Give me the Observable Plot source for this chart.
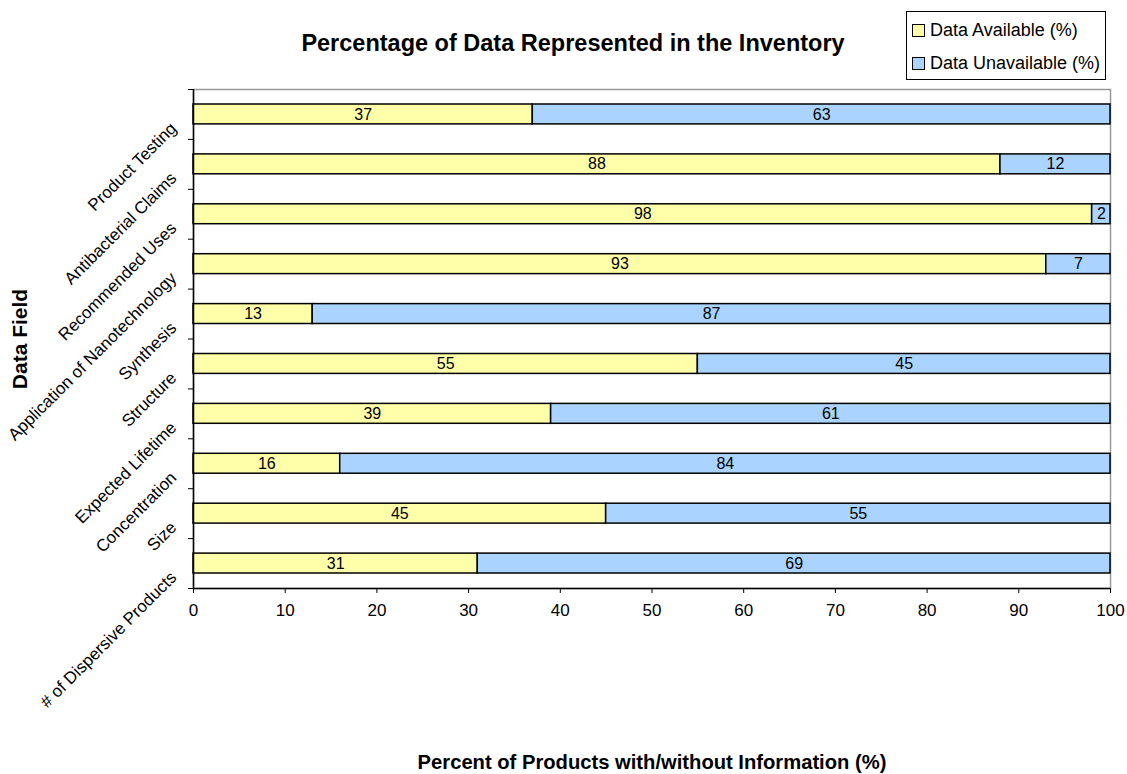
<!DOCTYPE html>
<html>
<head>
<meta charset="utf-8">
<script src="https://cdn.jsdelivr.net/npm/d3@7"></script>
<script src="https://cdn.jsdelivr.net/npm/@observablehq/plot@0.6"></script>
<style>
  html, body { margin: 0; padding: 0; background: #fff; }
  body { width: 1127px; height: 774px; position: relative; font-family: "Liberation Sans", Arial, sans-serif; }
  #chart { position: absolute; left: 0; top: 0; }
  #legend { position: absolute; left: 906px; top: 11px; width: 200px; height: 69px; border: 1px solid #000; background: #fff; font-size: 18px; color: #000; box-sizing: border-box; }
  .item { position: absolute; left: 5px; height: 20px; display: flex; align-items: center; white-space: nowrap; }
  .sw { width: 11px; height: 11px; border: 1px solid #000; margin-right: 5px; }
</style>
</head>
<body>
<div id="chart"></div>
<div id="legend"></div>
<script>
const categories = ["# of Dispersive Products", "Size", "Concentration", "Expected Lifetime", "Structure", "Synthesis", "Application of Nanotechnology", "Recommended Uses", "Antibacterial Claims", "Product Testing"];
const available = [31, 45, 16, 39, 55, 13, 93, 98, 88, 37];
const unavailable = [69, 55, 84, 61, 45, 87, 7, 2, 12, 63];
const seriesNames = ["Data Available (%)", "Data Unavailable (%)"];
const seriesColors = ["#FFFFAA", "#AAD4FF"];
const xTicks = [0, 10, 20, 30, 40, 50, 60, 70, 80, 90, 100];
const title = "Percentage of Data Represented in the Inventory";
const xTitle = "Percent of Products with/without Information (%)";
const yTitle = "Data Field";

const rows = [];
categories.forEach((c, i) => rows.push({cat: c, idx: i, series: seriesNames[0], value: available[i]}));
categories.forEach((c, i) => rows.push({cat: c, idx: i, series: seriesNames[1], value: unavailable[i]}));
const catRows = categories.map((c, i) => ({cat: c, idx: i}));

const font = "'Liberation Sans', Arial, sans-serif";

const chart = Plot.plot({
  width: 1127,
  height: 774,
  marginLeft: 193,
  marginRight: 17,
  marginTop: 89,
  marginBottom: 186,
  style: {fontFamily: font, fontSize: "17px", color: "#000", background: "#fff"},
  x: {domain: [0, 100]},
  y: {domain: [0, categories.length]},
  color: {domain: seriesNames, range: seriesColors},
  marks: [
    Plot.frame({stroke: "#999", strokeWidth: 1.5}),
    Plot.rectX(rows, Plot.stackX({
      x: "value", y: "idx", interval: 1, fill: "series",
      stroke: "#000", strokeWidth: 1.5, insetTop: 15, insetBottom: 15
    })),
    Plot.text(rows, Plot.stackX({
      x: "value", y: d => d.idx + 0.5, z: "idx", text: d => String(d.value), fontSize: 16, fill: "#000"
    })),
    Plot.ruleY([0], {stroke: "#000", strokeWidth: 1.5}),
    Plot.ruleX([0], {stroke: "#000", strokeWidth: 1.5}),
    Plot.axisX({ticks: xTicks, tickSize: 5, tickPadding: 10, label: null, stroke: "#000", fontSize: 17}),
    Plot.axisY({ticks: d3.range(0, categories.length + 1), tickSize: 5, tickFormat: () => "", label: null, stroke: "#000"}),
    Plot.text(catRows, {
      y: d => d.idx + 0.5, text: "cat", frameAnchor: "left", dx: -16, dy: 15,
      rotate: -45, textAnchor: "end", lineAnchor: "bottom", fontSize: 17, fill: "#000"
    }),
    Plot.text([yTitle], {frameAnchor: "left", dx: -173, rotate: -90, textAnchor: "middle", fontWeight: "bold", fontSize: 21, fill: "#000"}),
    Plot.text([xTitle], {frameAnchor: "bottom", dy: 180, fontWeight: "bold", fontSize: 20.2, fill: "#000"}),
    Plot.text([title], {frameAnchor: "top", dx: -79, dy: -55, fontWeight: "bold", fontSize: 23.5, fill: "#000"})
  ]
});
document.getElementById("chart").appendChild(chart);

const legend = document.getElementById("legend");
seriesNames.forEach((name, i) => {
  const item = document.createElement("div");
  item.className = "item";
  item.style.top = (i === 0 ? 8 : 41) + "px";
  const sw = document.createElement("div");
  sw.className = "sw";
  sw.style.background = seriesColors[i];
  const label = document.createElement("span");
  label.textContent = name;
  item.appendChild(sw);
  item.appendChild(label);
  legend.appendChild(item);
});
</script>
</body>
</html>
